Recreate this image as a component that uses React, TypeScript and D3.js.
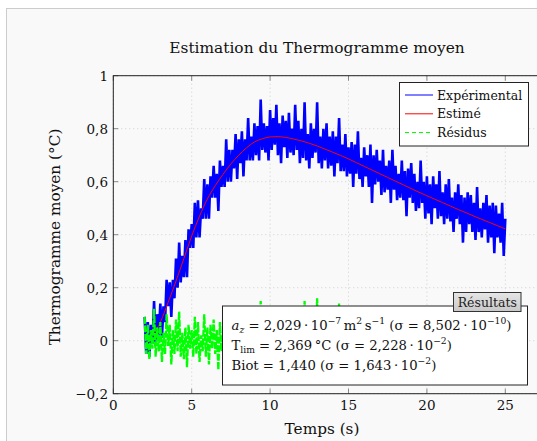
import React from "react";
import * as d3 from "d3";

// ---- data ----
const T0 = 2; // s, first sample
const DT = 0.1; // s, sampling step
const experimental = [
  0.09, -0.05, 0.07, -0.06, 0.06, -0.01, 0.15, -0.02, 0.10, 0.02,
  0.14, 0.01, 0.13, 0.07, 0.23, 0.13, 0.22, 0.09, 0.23, 0.16,
  0.31, 0.20, 0.37, 0.22, 0.32, 0.24, 0.38, 0.24, 0.42, 0.35,
  0.44, 0.35, 0.52, 0.39, 0.53, 0.39, 0.50, 0.46, 0.61, 0.46,
  0.59, 0.46, 0.62, 0.54, 0.66, 0.54, 0.63, 0.49, 0.68, 0.58,
  0.66, 0.58, 0.76, 0.60, 0.72, 0.60, 0.72, 0.65, 0.78, 0.61,
  0.76, 0.67, 0.79, 0.62, 0.76, 0.68, 0.84, 0.68, 0.77, 0.68,
  0.82, 0.70, 0.81, 0.68, 0.91, 0.72, 0.82, 0.71, 0.81, 0.68,
  0.87, 0.72, 0.84, 0.74, 0.89, 0.70, 0.82, 0.67, 0.85, 0.73,
  0.83, 0.69, 0.86, 0.71, 0.80, 0.70, 0.89, 0.72, 0.83, 0.67,
  0.80, 0.69, 0.90, 0.68, 0.78, 0.65, 0.82, 0.69, 0.80, 0.71,
  0.90, 0.67, 0.77, 0.65, 0.80, 0.68, 0.82, 0.65, 0.77, 0.66,
  0.79, 0.62, 0.77, 0.67, 0.84, 0.64, 0.74, 0.64, 0.78, 0.62,
  0.73, 0.63, 0.75, 0.58, 0.74, 0.63, 0.79, 0.61, 0.69, 0.58,
  0.73, 0.62, 0.70, 0.58, 0.74, 0.52, 0.70, 0.59, 0.72, 0.60,
  0.68, 0.55, 0.72, 0.56, 0.66, 0.57, 0.68, 0.52, 0.72, 0.57,
  0.66, 0.53, 0.63, 0.54, 0.68, 0.53, 0.64, 0.47, 0.65, 0.54,
  0.67, 0.52, 0.63, 0.49, 0.60, 0.50, 0.68, 0.52, 0.60, 0.46,
  0.62, 0.48, 0.59, 0.44, 0.62, 0.50, 0.59, 0.46, 0.64, 0.47,
  0.56, 0.44, 0.59, 0.46, 0.61, 0.45, 0.54, 0.41, 0.56, 0.46,
  0.59, 0.44, 0.55, 0.37, 0.54, 0.41, 0.56, 0.44, 0.55, 0.41,
  0.52, 0.38, 0.58, 0.41, 0.50, 0.39, 0.52, 0.42, 0.55, 0.37,
  0.51, 0.39, 0.52, 0.33, 0.51, 0.39, 0.48, 0.37, 0.52, 0.32,
  0.46,
];
const residus = [
  0.09, -0.05, 0.06, -0.07, 0.04, -0.03, 0.12, -0.06, 0.05, -0.04,
  0.07, -0.08, 0.03, -0.05, 0.10, -0.02, 0.06, -0.09, 0.04, -0.05,
  0.08, -0.04, 0.11, -0.06, 0.03, -0.07, 0.05, -0.10, 0.06, -0.03,
  0.04, -0.06, 0.09, -0.05, 0.07, -0.08, 0.02, -0.04, 0.10, -0.06,
  0.05, -0.09, 0.06, -0.03, 0.08, -0.05, 0.04, -0.11, 0.07, -0.04,
  0.03, -0.06, 0.12, -0.05, 0.06, -0.07, 0.05, -0.03, 0.09, -0.08,
  0.06, -0.04, 0.08, -0.10, 0.04, -0.05, 0.11, -0.06, 0.03, -0.07,
  0.07, -0.05, 0.05, -0.08, 0.15, -0.04, 0.06, -0.06, 0.04, -0.09,
  0.10, -0.05, 0.07, -0.03, 0.12, -0.07, 0.05, -0.10, 0.08, -0.04,
  0.06, -0.08, 0.09, -0.05, 0.04, -0.06, 0.13, -0.04, 0.07, -0.09,
  0.05, -0.06, 0.15, -0.07, 0.03, -0.10, 0.08, -0.05, 0.06, -0.03,
  0.16, -0.06, 0.04, -0.08, 0.07, -0.04, 0.10, -0.07, 0.05, -0.05,
  0.08, -0.09, 0.06, -0.03, 0.14, -0.06, 0.04, -0.05, 0.09, -0.07,
  0.04, -0.05, 0.07, -0.10, 0.06, -0.04, 0.12, -0.06, 0.03, -0.08,
  0.07, -0.04, 0.05, -0.07, 0.09, -0.12, 0.06, -0.05, 0.08, -0.03,
  0.05, -0.08, 0.10, -0.06, 0.04, -0.05, 0.07, -0.09, 0.11, -0.04,
  0.06, -0.07, 0.03, -0.05, 0.09, -0.06, 0.05, -0.11, 0.07, -0.04,
  0.10, -0.05, 0.06, -0.08, 0.04, -0.06, 0.12, -0.04, 0.05, -0.09,
  0.07, -0.06, 0.05, -0.10, 0.08, -0.03, 0.06, -0.07, 0.11, -0.05,
  0.04, -0.08, 0.07, -0.05, 0.10, -0.06, 0.03, -0.09, 0.06, -0.04,
  0.09, -0.05, 0.06, -0.12, 0.05, -0.07, 0.08, -0.04, 0.07, -0.06,
  0.05, -0.09, 0.11, -0.05, 0.04, -0.07, 0.06, -0.03, 0.10, -0.08,
  0.06, -0.05, 0.08, -0.11, 0.07, -0.04, 0.05, -0.06, 0.09, -0.10,
  0.04,
];
const ESTIME_T0 = 2;
const ESTIME_DT = 0.5;
const estime = [
  0.000, 0.020, 0.070, 0.145, 0.225, 0.310, 0.395, 0.470, 0.535, 0.585,
  0.628, 0.667, 0.700, 0.728, 0.750, 0.762, 0.769, 0.770, 0.767, 0.761,
  0.754, 0.745, 0.735, 0.723, 0.711, 0.699, 0.686, 0.672, 0.658, 0.644,
  0.630, 0.616, 0.602, 0.588, 0.574, 0.560, 0.547, 0.534, 0.521, 0.508,
  0.495, 0.483, 0.470, 0.458, 0.446, 0.434, 0.422,
];
const xTicks = [0, 5, 10, 15, 20, 25];
const yTicks = [-0.2, 0, 0.2, 0.4, 0.6, 0.8, 1];
const X_MAX = 27.5;
const Y_MIN = -0.2;
const Y_MAX = 1;
const legendItems = [
  { label: "Expérimental", color: "#0000ff", dash: "none" },
  { label: "Estimé", color: "#ff0000", dash: "none" },
  { label: "Résidus", color: "#00ee00", dash: "4,3" },
];

const FONT = "'DejaVu Serif', serif";

export default function App() {
  const W = 537;
  const H = 441;
  const left = 113.3;
  const top = 75.7;
  const bottom = 393.7;
  const x = d3.scaleLinear().domain([0, 25]).range([left, left + 25 * 15.68]);
  const y = d3.scaleLinear().domain([Y_MIN, Y_MAX]).range([bottom, top]);
  const right = x(X_MAX);

  const fmt = (v: number) => {
    const s = d3.format("~g")(Math.round(v * 10) / 10);
    return s.replace("-", "\u2212").replace(".", ",");
  };

  const lineT = d3
    .line<number>()
    .x((_, i) => x(T0 + i * DT))
    .y((d) => y(d));
  const lineE = d3
    .line<number>()
    .x((_, i) => x(ESTIME_T0 + i * ESTIME_DT))
    .y((d) => y(d))
    .curve(d3.curveMonotoneX);

  const supSize = 9.2;
  const fs = 13.2;

  return (
    <svg
      width={W}
      height={H}
      style={{ position: "absolute", left: 0, top: 0, fontFamily: FONT }}
    >
      <rect x={0} y={0} width={W} height={H} fill="#ffffff" />
      <rect x={6.5} y={8.5} width={700} height={700} fill="#f9f9f9" stroke="#cccccc" />
      <defs>
        <clipPath id="plotclip">
          <rect x={left} y={top} width={right - left} height={bottom - top} />
        </clipPath>
        <linearGradient id="tagGrad" x1="0" y1="0" x2="0" y2="1">
          <stop offset="0" stopColor="#e6e6e6" />
          <stop offset="1" stopColor="#c8c8c8" />
        </linearGradient>
      </defs>

      {/* title */}
      <text x={317} y={53} textAnchor="middle" fontSize={15.4} fill="#111">
        Estimation du Thermogramme moyen
      </text>

      {/* grid */}
      {xTicks.map((t) => (
        <line key={"gx" + t} x1={x(t)} x2={x(t)} y1={top} y2={bottom} stroke="#cfcfcf" strokeDasharray="1,3" />
      ))}
      {yTicks.map((t) => (
        <line key={"gy" + t} x1={left} x2={right} y1={y(t)} y2={y(t)} stroke="#cfcfcf" strokeDasharray="1,3" />
      ))}

      {/* data */}
      <g clipPath="url(#plotclip)">
        <path d={lineT(experimental) || ""} fill="none" stroke="#0000ff" strokeWidth={2.6} strokeLinejoin="miter" />
        <path d={lineE(estime) || ""} fill="none" stroke="#ff0000" strokeWidth={1} />
        <path d={lineT(residus) || ""} fill="none" stroke="#00ff00" strokeWidth={2.3} strokeDasharray="7,1.5" />
      </g>

      {/* ticks */}
      {xTicks.map((t) => (
        <g key={"tx" + t}>
          <line x1={x(t)} x2={x(t)} y1={bottom} y2={bottom - 5} stroke="#888" />
          <line x1={x(t)} x2={x(t)} y1={top} y2={top + 5} stroke="#888" />
          <text x={x(t)} y={410} textAnchor="middle" fontSize={13.5} fill="#111">
            {fmt(t)}
          </text>
        </g>
      ))}
      {yTicks.map((t) => (
        <g key={"ty" + t}>
          <line x1={left} x2={left + 5} y1={y(t)} y2={y(t)} stroke="#888" />
          <text x={108} y={y(t) + 4.8} textAnchor="end" fontSize={13.5} fill="#111">
            {fmt(t)}
          </text>
        </g>
      ))}

      {/* axis box */}
      <rect x={left} y={top} width={right - left} height={bottom - top} fill="none" stroke="#222" strokeWidth={1} />

      {/* axis labels */}
      <text x={322} y={434} textAnchor="middle" fontSize={15.3} fill="#111">
        Temps (s)
      </text>
      <text transform={`translate(60,237) rotate(-90)`} textAnchor="middle" fontSize={15.3} fill="#111">
        Thermogramme moyen (°C)
      </text>

      {/* legend */}
      <rect x={399.5} y={82.5} width={129} height={63.5} fill="#fff" stroke="#222" />
      {legendItems.map((it, i) => {
        const yy = 95 + i * 18.8;
        return (
          <g key={it.label}>
            <line x1={405} x2={433} y1={yy} y2={yy} stroke={it.color} strokeWidth={1} strokeDasharray={it.dash} />
            <text x={437} y={yy + 4.5} fontSize={12.5} fill="#111">
              {it.label}
            </text>
          </g>
        );
      })}

      {/* results box */}
      <rect x={222.5} y={306} width={305} height={79} fill="#fff" stroke="#222" />
      <rect x={453.5} y={292.5} width={67.5} height={19} fill="url(#tagGrad)" stroke="#333" />
      <text x={487.3} y={307} textAnchor="middle" fontSize={12.5} fill="#222">
        Résultats
      </text>
      <text x={231.5} y={330} fontSize={fs} fill="#111">
        <tspan fontStyle="italic">a</tspan>
        <tspan fontStyle="italic" fontSize={supSize} dy={3}>z</tspan>
        <tspan dy={-3}>{" = 2,029\u2009·\u200910"}</tspan>
        <tspan fontSize={supSize} dy={-6}>{"\u22127"}</tspan>
        <tspan dy={6}>{"\u2009m"}</tspan>
        <tspan fontSize={supSize} dy={-6}>2</tspan>
        <tspan dy={6}>{"\u2009s"}</tspan>
        <tspan fontSize={supSize} dy={-6}>{"\u22121"}</tspan>
        <tspan dy={6}>{" (σ = 8,502\u2009·\u200910"}</tspan>
        <tspan fontSize={supSize} dy={-6}>{"\u221210"}</tspan>
        <tspan dy={6}>)</tspan>
      </text>
      <text x={231.5} y={350} fontSize={fs} fill="#111">
        <tspan>T</tspan>
        <tspan fontSize={supSize} dy={3}>lim</tspan>
        <tspan dy={-3}>{" = 2,369\u2009°C (σ = 2,228\u2009·\u200910"}</tspan>
        <tspan fontSize={supSize} dy={-6}>{"\u22122"}</tspan>
        <tspan dy={6}>)</tspan>
      </text>
      <text x={231.5} y={370} fontSize={fs} fill="#111">
        <tspan>{"Biot = 1,440 (σ = 1,643\u2009·\u200910"}</tspan>
        <tspan fontSize={supSize} dy={-6}>{"\u22122"}</tspan>
        <tspan dy={6}>)</tspan>
      </text>
    </svg>
  );
}
